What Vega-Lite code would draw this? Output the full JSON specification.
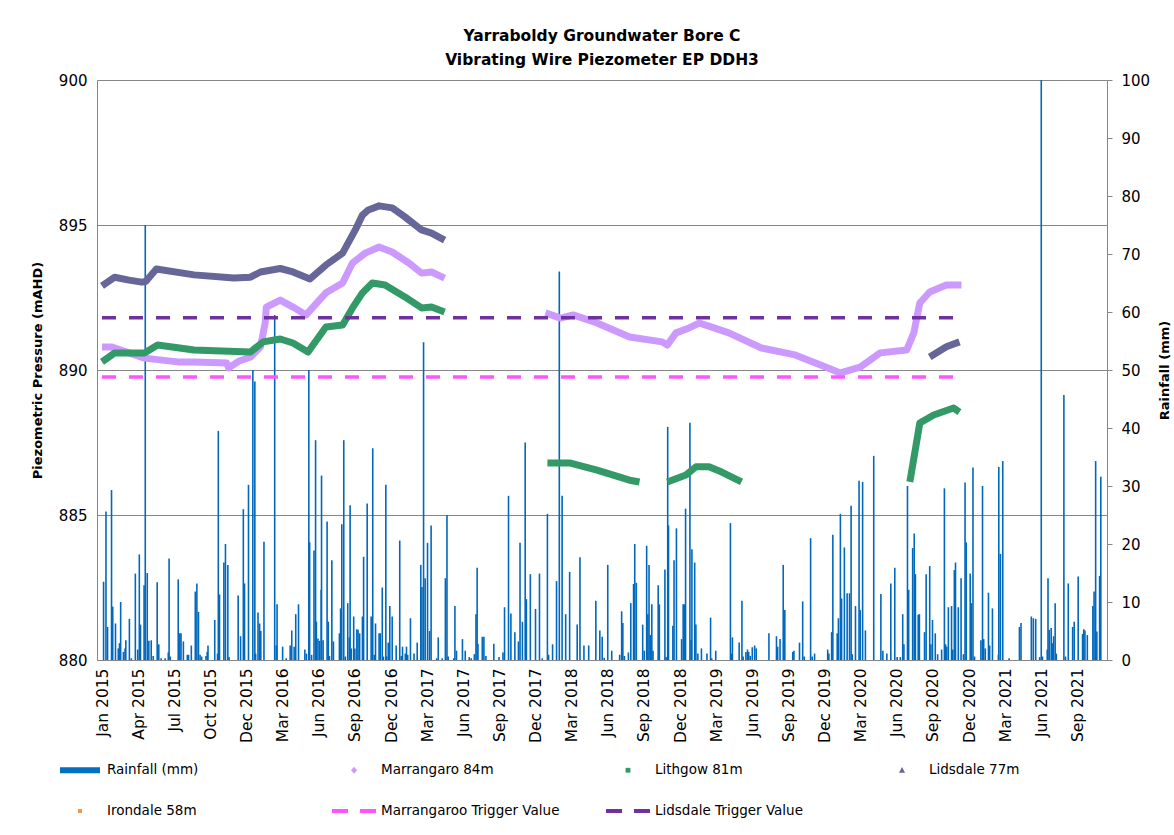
{
  "$schema": "https://vega.github.io/schema/vega-lite/v6.json",
  "width": 1010,
  "height": 580,
  "autosize": {"type": "none"},
  "padding": {"left": 97, "top": 80, "right": 67, "bottom": 175},
  "background": "white",
  "config": {
    "font": "DejaVu Sans",
    "view": {"stroke": null},
    "axis": {"labelColor": "#000000", "titleColor": "#000000", "labelFont": "DejaVu Sans", "titleFont": "DejaVu Sans"}
  },
  "title": {
    "text": ["Yarraboldy Groundwater Bore C", "Vibrating Wire Piezometer EP DDH3"],
    "fontSize": 15.5,
    "fontWeight": "bold",
    "lineHeight": 24,
    "offset": 5,
    "color": "#000000",
    "anchor": "middle"
  },
  "datasets": {
    "rain": [
      {"date":"2015-01-05","rain":13.5},{"date":"2015-01-11","rain":25.6},{"date":"2015-01-15","rain":5.7},{"date":"2015-01-25","rain":29.3},{"date":"2015-01-28","rain":9.2},
      {"date":"2015-02-04","rain":6.3},{"date":"2015-02-11","rain":2},{"date":"2015-02-14","rain":2.9},{"date":"2015-02-17","rain":10},{"date":"2015-02-24","rain":1.4},
      {"date":"2015-02-28","rain":2},{"date":"2015-03-02","rain":3.4},{"date":"2015-03-11","rain":7.1},{"date":"2015-03-16","rain":0.3},{"date":"2015-03-26","rain":14.9},
      {"date":"2015-04-01","rain":1.8},{"date":"2015-04-05","rain":18.2},{"date":"2015-04-08","rain":6.1},{"date":"2015-04-17","rain":12.9},{"date":"2015-04-20","rain":75},
      {"date":"2015-04-25","rain":15},{"date":"2015-04-29","rain":3.3},{"date":"2015-05-05","rain":3.4},{"date":"2015-05-10","rain":0.7},{"date":"2015-05-20","rain":13.4},
      {"date":"2015-05-24","rain":2.7},{"date":"2015-05-30","rain":0.3},{"date":"2015-06-09","rain":0.3},{"date":"2015-06-17","rain":1.3},{"date":"2015-06-19","rain":17.5},
      {"date":"2015-06-22","rain":0.6},{"date":"2015-07-12","rain":13.9},{"date":"2015-07-16","rain":4.6},{"date":"2015-07-19","rain":4.6},{"date":"2015-07-25","rain":3.2},
      {"date":"2015-08-04","rain":0.9},{"date":"2015-08-07","rain":0.9},{"date":"2015-08-14","rain":2.5},{"date":"2015-08-24","rain":11.8},{"date":"2015-08-28","rain":13.2},
      {"date":"2015-09-01","rain":8.3},{"date":"2015-09-05","rain":0.9},{"date":"2015-09-09","rain":0.6},{"date":"2015-09-20","rain":0.7},{"date":"2015-09-23","rain":1.4},
      {"date":"2015-09-25","rain":2.5},{"date":"2015-10-12","rain":6.9},{"date":"2015-10-19","rain":1.1},{"date":"2015-10-21","rain":39.5},{"date":"2015-10-24","rain":11.3},
      {"date":"2015-11-04","rain":16.8},{"date":"2015-11-08","rain":20},{"date":"2015-11-14","rain":16.4},{"date":"2015-11-17","rain":0.5},{"date":"2015-12-10","rain":11.1},
      {"date":"2015-12-16","rain":4.1},{"date":"2015-12-23","rain":26},{"date":"2015-12-26","rain":13.2},{"date":"2016-01-05","rain":30.2},{"date":"2016-01-16","rain":50},
      {"date":"2016-01-21","rain":48},{"date":"2016-01-23","rain":1.1},{"date":"2016-01-29","rain":8.2},{"date":"2016-02-02","rain":6.3},{"date":"2016-02-05","rain":5},
      {"date":"2016-02-13","rain":20.4},{"date":"2016-03-11","rain":59.5},{"date":"2016-03-15","rain":2.5},{"date":"2016-03-17","rain":9.6},{"date":"2016-03-31","rain":2.3},
      {"date":"2016-04-09","rain":0.3},{"date":"2016-04-19","rain":2.5},{"date":"2016-04-23","rain":5.1},{"date":"2016-04-29","rain":2.3},{"date":"2016-05-03","rain":7.9},
      {"date":"2016-05-10","rain":9.6},{"date":"2016-05-26","rain":1.8},{"date":"2016-05-30","rain":1.1},{"date":"2016-06-05","rain":50},{"date":"2016-06-07","rain":20.3},
      {"date":"2016-06-12","rain":0.9},{"date":"2016-06-18","rain":18.9},{"date":"2016-06-22","rain":37.9},{"date":"2016-06-24","rain":6.6},{"date":"2016-06-28","rain":3.7},
      {"date":"2016-07-02","rain":3.3},{"date":"2016-07-06","rain":12.1},{"date":"2016-07-07","rain":31.8},{"date":"2016-07-11","rain":3.4},{"date":"2016-07-21","rain":23.9},
      {"date":"2016-07-24","rain":6.6},{"date":"2016-07-27","rain":0.7},{"date":"2016-08-02","rain":17.2},{"date":"2016-08-06","rain":3.2},{"date":"2016-08-21","rain":4.6},
      {"date":"2016-08-24","rain":8.9},{"date":"2016-08-27","rain":23.4},{"date":"2016-09-01","rain":37.9},{"date":"2016-09-05","rain":0.6},{"date":"2016-09-11","rain":9.8},
      {"date":"2016-09-15","rain":3.9},{"date":"2016-09-17","rain":26.7},{"date":"2016-09-20","rain":2},{"date":"2016-09-26","rain":7.5},{"date":"2016-09-29","rain":2},
      {"date":"2016-10-04","rain":5.3},{"date":"2016-10-07","rain":5.2},{"date":"2016-10-11","rain":4.6},{"date":"2016-10-18","rain":7.5},{"date":"2016-10-21","rain":17.8},
      {"date":"2016-10-30","rain":27},{"date":"2016-11-09","rain":7.5},{"date":"2016-11-13","rain":36.5},{"date":"2016-11-17","rain":0.9},{"date":"2016-11-20","rain":6.3},
      {"date":"2016-11-29","rain":4.6},{"date":"2016-12-02","rain":4.6},{"date":"2016-12-07","rain":12.5},{"date":"2016-12-10","rain":0.6},{"date":"2016-12-16","rain":30.2},
      {"date":"2016-12-18","rain":0.6},{"date":"2016-12-22","rain":3},{"date":"2016-12-26","rain":9.3},{"date":"2017-01-01","rain":7.5},{"date":"2017-01-11","rain":2.5},
      {"date":"2017-01-20","rain":20.6},{"date":"2017-01-24","rain":0.7},{"date":"2017-01-27","rain":2.3},{"date":"2017-02-03","rain":1.1},{"date":"2017-02-06","rain":2.3},
      {"date":"2017-02-09","rain":0.9},{"date":"2017-02-16","rain":7.2},{"date":"2017-02-25","rain":1.1},{"date":"2017-03-05","rain":3},{"date":"2017-03-14","rain":16.4},
      {"date":"2017-03-17","rain":12.6},{"date":"2017-03-21","rain":54.8},{"date":"2017-03-25","rain":14.1},{"date":"2017-03-31","rain":20.2},{"date":"2017-04-05","rain":5},
      {"date":"2017-04-09","rain":23.2},{"date":"2017-04-23","rain":0.3},{"date":"2017-04-27","rain":3.9},{"date":"2017-05-07","rain":0.3},{"date":"2017-05-15","rain":14.1},
      {"date":"2017-05-19","rain":25},{"date":"2017-05-22","rain":0.6},{"date":"2017-06-05","rain":0.3},{"date":"2017-06-08","rain":9.3},{"date":"2017-06-12","rain":1.6},
      {"date":"2017-06-27","rain":3.6},{"date":"2017-07-04","rain":1.6},{"date":"2017-07-14","rain":0.5},{"date":"2017-07-19","rain":0.3},{"date":"2017-07-27","rain":1},
      {"date":"2017-07-31","rain":7.9},{"date":"2017-08-03","rain":15.9},{"date":"2017-08-05","rain":2.8},{"date":"2017-08-16","rain":4},{"date":"2017-08-20","rain":4},
      {"date":"2017-08-25","rain":0.7},{"date":"2017-09-14","rain":2.8},{"date":"2017-09-27","rain":0.5},{"date":"2017-10-07","rain":1.3},{"date":"2017-10-11","rain":9.1},
      {"date":"2017-10-21","rain":28.3},{"date":"2017-10-27","rain":8},{"date":"2017-11-06","rain":4.8},{"date":"2017-11-15","rain":3.2},{"date":"2017-11-19","rain":20.2},
      {"date":"2017-11-25","rain":6.6},{"date":"2017-12-02","rain":37.5},{"date":"2017-12-05","rain":10.5},{"date":"2017-12-15","rain":14.8},{"date":"2017-12-28","rain":8.8},
      {"date":"2018-01-07","rain":14.9},{"date":"2018-01-14","rain":0.3},{"date":"2018-01-27","rain":25.2},{"date":"2018-01-30","rain":0.9},{"date":"2018-02-09","rain":2.7},
      {"date":"2018-02-19","rain":13.6},{"date":"2018-02-26","rain":67},{"date":"2018-03-05","rain":28.3},{"date":"2018-03-14","rain":7.9},{"date":"2018-03-24","rain":15.2},
      {"date":"2018-04-12","rain":6.1},{"date":"2018-04-19","rain":17.7},{"date":"2018-04-29","rain":2.5},{"date":"2018-05-11","rain":2.5},{"date":"2018-05-29","rain":10.2},
      {"date":"2018-06-08","rain":5.1},{"date":"2018-06-14","rain":4},{"date":"2018-06-19","rain":0.4},{"date":"2018-06-28","rain":16.4},{"date":"2018-07-08","rain":1.6},
      {"date":"2018-07-28","rain":0.9},{"date":"2018-08-02","rain":8.4},{"date":"2018-08-05","rain":6.4},{"date":"2018-08-09","rain":0.7},{"date":"2018-08-19","rain":1.3},
      {"date":"2018-08-25","rain":9.8},{"date":"2018-09-01","rain":13.1},{"date":"2018-09-04","rain":20},{"date":"2018-09-08","rain":13.3},{"date":"2018-09-24","rain":6.1},
      {"date":"2018-09-28","rain":1.6},{"date":"2018-10-04","rain":19.7},{"date":"2018-10-07","rain":7.9},{"date":"2018-10-10","rain":16.4},{"date":"2018-10-13","rain":4.3},
      {"date":"2018-10-17","rain":9.6},{"date":"2018-10-20","rain":1.6},{"date":"2018-11-02","rain":12.9},{"date":"2018-11-05","rain":9.6},{"date":"2018-11-19","rain":15.6},
      {"date":"2018-11-22","rain":0.5},{"date":"2018-11-26","rain":40.2},{"date":"2018-11-28","rain":23.2},{"date":"2018-12-09","rain":5.9},{"date":"2018-12-12","rain":17.2},
      {"date":"2018-12-18","rain":22.7},{"date":"2018-12-31","rain":3.6},{"date":"2019-01-04","rain":9.6},{"date":"2019-01-07","rain":9.6},{"date":"2019-01-10","rain":26.1},
      {"date":"2019-01-21","rain":40.9},{"date":"2019-01-24","rain":3.4},{"date":"2019-01-26","rain":19.1},{"date":"2019-02-02","rain":16.8},{"date":"2019-02-05","rain":6.1},
      {"date":"2019-02-10","rain":1.1},{"date":"2019-02-19","rain":2},{"date":"2019-03-05","rain":1.1},{"date":"2019-03-14","rain":7.3},{"date":"2019-03-17","rain":0.3},
      {"date":"2019-03-27","rain":1.6},{"date":"2019-05-03","rain":23.6},{"date":"2019-05-06","rain":1.1},{"date":"2019-05-08","rain":3.9},{"date":"2019-05-25","rain":3},
      {"date":"2019-06-01","rain":10.2},{"date":"2019-06-04","rain":0.6},{"date":"2019-06-11","rain":1.4},{"date":"2019-06-15","rain":1.8},{"date":"2019-06-18","rain":1.4},
      {"date":"2019-06-22","rain":0.7},{"date":"2019-06-27","rain":2.2},{"date":"2019-07-03","rain":2.5},{"date":"2019-07-07","rain":2},{"date":"2019-08-08","rain":4.6},
      {"date":"2019-08-27","rain":4.1},{"date":"2019-08-30","rain":2.3},{"date":"2019-09-05","rain":3.6},{"date":"2019-09-13","rain":16.4},{"date":"2019-09-17","rain":8.6},
      {"date":"2019-10-07","rain":1.4},{"date":"2019-10-10","rain":1.6},{"date":"2019-10-24","rain":3},{"date":"2019-11-01","rain":10.1},{"date":"2019-11-05","rain":0.6},
      {"date":"2019-11-21","rain":21},{"date":"2019-11-25","rain":0.6},{"date":"2019-12-01","rain":1.1},{"date":"2020-01-03","rain":1.8},{"date":"2020-01-06","rain":1.1},
      {"date":"2020-01-13","rain":4.8},{"date":"2020-01-16","rain":21.6},{"date":"2020-01-27","rain":4.6},{"date":"2020-01-30","rain":7.2},{"date":"2020-02-04","rain":25.2},
      {"date":"2020-02-07","rain":10.6},{"date":"2020-02-14","rain":19.4},{"date":"2020-02-21","rain":11.5},{"date":"2020-02-27","rain":11.5},{"date":"2020-03-02","rain":26.6},
      {"date":"2020-03-05","rain":1},{"date":"2020-03-13","rain":9.3},{"date":"2020-03-22","rain":30.9},{"date":"2020-03-25","rain":8.6},{"date":"2020-03-31","rain":30.7},
      {"date":"2020-04-07","rain":5.1},{"date":"2020-04-28","rain":35.2},{"date":"2020-05-16","rain":11.4},{"date":"2020-05-21","rain":1.6},{"date":"2020-05-31","rain":1.1},
      {"date":"2020-06-10","rain":13.2},{"date":"2020-06-20","rain":15.9},{"date":"2020-06-26","rain":0.5},{"date":"2020-07-04","rain":0.5},{"date":"2020-07-10","rain":7.9},
      {"date":"2020-07-13","rain":2.7},{"date":"2020-07-22","rain":30},{"date":"2020-07-25","rain":12.1},{"date":"2020-08-04","rain":19.3},{"date":"2020-08-08","rain":21.8},
      {"date":"2020-08-11","rain":14.8},{"date":"2020-08-18","rain":7.8},{"date":"2020-08-21","rain":7.9},{"date":"2020-09-03","rain":4.8},{"date":"2020-09-07","rain":14.8},
      {"date":"2020-09-16","rain":16.2},{"date":"2020-09-19","rain":2.7},{"date":"2020-09-23","rain":6.9},{"date":"2020-09-30","rain":4.6},{"date":"2020-10-06","rain":1},
      {"date":"2020-10-16","rain":1.8},{"date":"2020-10-23","rain":29.6},{"date":"2020-10-26","rain":2.7},{"date":"2020-10-29","rain":2.3},{"date":"2020-11-02","rain":9.1},
      {"date":"2020-11-10","rain":9.3},{"date":"2020-11-13","rain":1.8},{"date":"2020-11-17","rain":15.5},{"date":"2020-11-20","rain":16.8},{"date":"2020-11-27","rain":9.1},
      {"date":"2020-12-04","rain":14.1},{"date":"2020-12-10","rain":1},{"date":"2020-12-14","rain":30.6},{"date":"2020-12-17","rain":20.3},{"date":"2020-12-27","rain":14.9},
      {"date":"2020-12-30","rain":9.8},{"date":"2021-01-03","rain":33.2},{"date":"2021-01-07","rain":0.6},{"date":"2021-01-23","rain":3.4},{"date":"2021-01-27","rain":30},
      {"date":"2021-01-30","rain":3.6},{"date":"2021-02-03","rain":2},{"date":"2021-02-11","rain":11.6},{"date":"2021-02-14","rain":2.5},{"date":"2021-02-21","rain":8.9},
      {"date":"2021-03-08","rain":0.9},{"date":"2021-03-09","rain":33.3},{"date":"2021-03-13","rain":18.3},{"date":"2021-03-19","rain":34.3},{"date":"2021-04-04","rain":0.3},
      {"date":"2021-04-30","rain":5.7},{"date":"2021-05-04","rain":6.4},{"date":"2021-05-30","rain":7.5},{"date":"2021-06-04","rain":7.2},{"date":"2021-06-10","rain":7.1},
      {"date":"2021-06-20","rain":0.5},{"date":"2021-06-24","rain":100},{"date":"2021-06-27","rain":0.6},{"date":"2021-07-09","rain":1.8},{"date":"2021-07-11","rain":14.1},
      {"date":"2021-07-14","rain":5.2},{"date":"2021-07-19","rain":5.5},{"date":"2021-07-22","rain":2.9},{"date":"2021-07-25","rain":4.1},{"date":"2021-07-29","rain":9.8},
      {"date":"2021-08-01","rain":1.1},{"date":"2021-08-20","rain":45.7},{"date":"2021-08-24","rain":0.6},{"date":"2021-08-31","rain":13.2},{"date":"2021-09-11","rain":5.7},
      {"date":"2021-09-15","rain":6.6},{"date":"2021-09-25","rain":14.4},{"date":"2021-10-06","rain":4.5},{"date":"2021-10-09","rain":5.3},{"date":"2021-10-12","rain":5.1},
      {"date":"2021-10-18","rain":4.3},{"date":"2021-11-01","rain":9.3},{"date":"2021-11-04","rain":11.8},{"date":"2021-11-08","rain":34.3},{"date":"2021-11-11","rain":4.9},
      {"date":"2021-11-18","rain":14.5},{"date":"2021-11-21","rain":31.6}
    ],
    "series": [
      {"series":"Lidsdale 77m","seg":"L1","date":"2015-01-01","value":892.9},
      {"series":"Lidsdale 77m","seg":"L1","date":"2015-02-02","value":893.2},
      {"series":"Lidsdale 77m","seg":"L1","date":"2015-03-10","value":893.1},
      {"series":"Lidsdale 77m","seg":"L1","date":"2015-04-11","value":893.03},
      {"series":"Lidsdale 77m","seg":"L1","date":"2015-04-21","value":893.05},
      {"series":"Lidsdale 77m","seg":"L1","date":"2015-05-18","value":893.48},
      {"series":"Lidsdale 77m","seg":"L1","date":"2015-08-21","value":893.28},
      {"series":"Lidsdale 77m","seg":"L1","date":"2015-11-29","value":893.17},
      {"series":"Lidsdale 77m","seg":"L1","date":"2016-01-10","value":893.2},
      {"series":"Lidsdale 77m","seg":"L1","date":"2016-02-04","value":893.38},
      {"series":"Lidsdale 77m","seg":"L1","date":"2016-03-25","value":893.5},
      {"series":"Lidsdale 77m","seg":"L1","date":"2016-04-26","value":893.38},
      {"series":"Lidsdale 77m","seg":"L1","date":"2016-06-08","value":893.14},
      {"series":"Lidsdale 77m","seg":"L1","date":"2016-07-18","value":893.62},
      {"series":"Lidsdale 77m","seg":"L1","date":"2016-08-29","value":894.03},
      {"series":"Lidsdale 77m","seg":"L1","date":"2016-09-30","value":894.83},
      {"series":"Lidsdale 77m","seg":"L1","date":"2016-10-18","value":895.34},
      {"series":"Lidsdale 77m","seg":"L1","date":"2016-11-02","value":895.52},
      {"series":"Lidsdale 77m","seg":"L1","date":"2016-11-29","value":895.66},
      {"series":"Lidsdale 77m","seg":"L1","date":"2017-01-01","value":895.59},
      {"series":"Lidsdale 77m","seg":"L1","date":"2017-02-02","value":895.28},
      {"series":"Lidsdale 77m","seg":"L1","date":"2017-03-16","value":894.83},
      {"series":"Lidsdale 77m","seg":"L1","date":"2017-04-10","value":894.72},
      {"series":"Lidsdale 77m","seg":"L1","date":"2017-05-13","value":894.48},
      {"series":"Lidsdale 77m","seg":"L2","date":"2020-09-16","value":890.45},
      {"series":"Lidsdale 77m","seg":"L2","date":"2020-10-28","value":890.8},
      {"series":"Lidsdale 77m","seg":"L2","date":"2020-11-30","value":890.97},
      {"series":"Marrangaro 84m","seg":"M1","date":"2015-01-01","value":890.79},
      {"series":"Marrangaro 84m","seg":"M1","date":"2015-01-26","value":890.79},
      {"series":"Marrangaro 84m","seg":"M1","date":"2015-04-18","value":890.41},
      {"series":"Marrangaro 84m","seg":"M1","date":"2015-07-10","value":890.28},
      {"series":"Marrangaro 84m","seg":"M1","date":"2015-08-21","value":890.28},
      {"series":"Marrangaro 84m","seg":"M1","date":"2015-11-11","value":890.24},
      {"series":"Marrangaro 84m","seg":"M1","date":"2015-11-16","value":890.07},
      {"series":"Marrangaro 84m","seg":"M1","date":"2015-12-11","value":890.3},
      {"series":"Marrangaro 84m","seg":"M1","date":"2016-01-10","value":890.45},
      {"series":"Marrangaro 84m","seg":"M1","date":"2016-02-04","value":890.79},
      {"series":"Marrangaro 84m","seg":"M1","date":"2016-02-16","value":891.62},
      {"series":"Marrangaro 84m","seg":"M1","date":"2016-02-19","value":892.17},
      {"series":"Marrangaro 84m","seg":"M1","date":"2016-03-25","value":892.41},
      {"series":"Marrangaro 84m","seg":"M1","date":"2016-04-26","value":892.17},
      {"series":"Marrangaro 84m","seg":"M1","date":"2016-05-29","value":891.9},
      {"series":"Marrangaro 84m","seg":"M1","date":"2016-07-18","value":892.66},
      {"series":"Marrangaro 84m","seg":"M1","date":"2016-08-29","value":893.0},
      {"series":"Marrangaro 84m","seg":"M1","date":"2016-09-23","value":893.69},
      {"series":"Marrangaro 84m","seg":"M1","date":"2016-10-25","value":894.03},
      {"series":"Marrangaro 84m","seg":"M1","date":"2016-11-29","value":894.24},
      {"series":"Marrangaro 84m","seg":"M1","date":"2017-01-01","value":894.07},
      {"series":"Marrangaro 84m","seg":"M1","date":"2017-02-12","value":893.69},
      {"series":"Marrangaro 84m","seg":"M1","date":"2017-03-16","value":893.34},
      {"series":"Marrangaro 84m","seg":"M1","date":"2017-04-10","value":893.38},
      {"series":"Marrangaro 84m","seg":"M1","date":"2017-05-13","value":893.17},
      {"series":"Marrangaro 84m","seg":"M2","date":"2018-01-22","value":891.97},
      {"series":"Marrangaro 84m","seg":"M2","date":"2018-03-01","value":891.79},
      {"series":"Marrangaro 84m","seg":"M2","date":"2018-04-02","value":891.9},
      {"series":"Marrangaro 84m","seg":"M2","date":"2018-06-01","value":891.62},
      {"series":"Marrangaro 84m","seg":"M2","date":"2018-08-22","value":891.14},
      {"series":"Marrangaro 84m","seg":"M2","date":"2018-11-12","value":890.97},
      {"series":"Marrangaro 84m","seg":"M2","date":"2018-11-25","value":890.86},
      {"series":"Marrangaro 84m","seg":"M2","date":"2018-12-17","value":891.28},
      {"series":"Marrangaro 84m","seg":"M2","date":"2019-01-19","value":891.45},
      {"series":"Marrangaro 84m","seg":"M2","date":"2019-02-13","value":891.62},
      {"series":"Marrangaro 84m","seg":"M2","date":"2019-03-17","value":891.48},
      {"series":"Marrangaro 84m","seg":"M2","date":"2019-04-29","value":891.28},
      {"series":"Marrangaro 84m","seg":"M2","date":"2019-07-20","value":890.76},
      {"series":"Marrangaro 84m","seg":"M2","date":"2019-10-13","value":890.52},
      {"series":"Marrangaro 84m","seg":"M2","date":"2019-12-16","value":890.17},
      {"series":"Marrangaro 84m","seg":"M2","date":"2020-02-04","value":889.9},
      {"series":"Marrangaro 84m","seg":"M2","date":"2020-03-25","value":890.1},
      {"series":"Marrangaro 84m","seg":"M2","date":"2020-05-14","value":890.59},
      {"series":"Marrangaro 84m","seg":"M2","date":"2020-07-20","value":890.69},
      {"series":"Marrangaro 84m","seg":"M2","date":"2020-08-07","value":891.28},
      {"series":"Marrangaro 84m","seg":"M2","date":"2020-08-22","value":892.31},
      {"series":"Marrangaro 84m","seg":"M2","date":"2020-09-16","value":892.69},
      {"series":"Marrangaro 84m","seg":"M2","date":"2020-10-28","value":892.93},
      {"series":"Marrangaro 84m","seg":"M2","date":"2020-12-05","value":892.93},
      {"series":"Lithgow 81m","seg":"G1","date":"2015-01-01","value":890.28},
      {"series":"Lithgow 81m","seg":"G1","date":"2015-02-02","value":890.59},
      {"series":"Lithgow 81m","seg":"G1","date":"2015-04-18","value":890.59},
      {"series":"Lithgow 81m","seg":"G1","date":"2015-05-21","value":890.86},
      {"series":"Lithgow 81m","seg":"G1","date":"2015-08-21","value":890.69},
      {"series":"Lithgow 81m","seg":"G1","date":"2016-01-10","value":890.62},
      {"series":"Lithgow 81m","seg":"G1","date":"2016-02-11","value":890.97},
      {"series":"Lithgow 81m","seg":"G1","date":"2016-03-25","value":891.07},
      {"series":"Lithgow 81m","seg":"G1","date":"2016-04-26","value":890.93},
      {"series":"Lithgow 81m","seg":"G1","date":"2016-06-03","value":890.62},
      {"series":"Lithgow 81m","seg":"G1","date":"2016-07-18","value":891.48},
      {"series":"Lithgow 81m","seg":"G1","date":"2016-08-29","value":891.55},
      {"series":"Lithgow 81m","seg":"G1","date":"2016-09-23","value":892.14},
      {"series":"Lithgow 81m","seg":"G1","date":"2016-10-18","value":892.66},
      {"series":"Lithgow 81m","seg":"G1","date":"2016-11-12","value":893.0},
      {"series":"Lithgow 81m","seg":"G1","date":"2016-12-14","value":892.93},
      {"series":"Lithgow 81m","seg":"G1","date":"2017-02-02","value":892.52},
      {"series":"Lithgow 81m","seg":"G1","date":"2017-03-16","value":892.14},
      {"series":"Lithgow 81m","seg":"G1","date":"2017-04-10","value":892.17},
      {"series":"Lithgow 81m","seg":"G1","date":"2017-05-13","value":892.0},
      {"series":"Lithgow 81m","seg":"G2","date":"2018-01-27","value":886.79},
      {"series":"Lithgow 81m","seg":"G2","date":"2018-03-26","value":886.79},
      {"series":"Lithgow 81m","seg":"G2","date":"2018-06-01","value":886.55},
      {"series":"Lithgow 81m","seg":"G2","date":"2018-08-22","value":886.2},
      {"series":"Lithgow 81m","seg":"G2","date":"2018-09-16","value":886.14},
      {"series":"Lithgow 81m","seg":"G3","date":"2018-11-25","value":886.14},
      {"series":"Lithgow 81m","seg":"G3","date":"2019-01-11","value":886.38},
      {"series":"Lithgow 81m","seg":"G3","date":"2019-02-05","value":886.66},
      {"series":"Lithgow 81m","seg":"G3","date":"2019-03-10","value":886.66},
      {"series":"Lithgow 81m","seg":"G3","date":"2019-04-11","value":886.48},
      {"series":"Lithgow 81m","seg":"G3","date":"2019-05-31","value":886.14},
      {"series":"Lithgow 81m","seg":"G4","date":"2020-07-28","value":886.14},
      {"series":"Lithgow 81m","seg":"G4","date":"2020-08-22","value":888.17},
      {"series":"Lithgow 81m","seg":"G4","date":"2020-09-26","value":888.45},
      {"series":"Lithgow 81m","seg":"G4","date":"2020-11-15","value":888.69},
      {"series":"Lithgow 81m","seg":"G4","date":"2020-11-30","value":888.55}
    ],
    "triggers": [
      {"series":"Marrangaroo Trigger Value","date":"2015-01-01","value":889.76},
      {"series":"Marrangaroo Trigger Value","date":"2020-12-01","value":889.76},
      {"series":"Lidsdale Trigger Value","date":"2015-01-01","value":891.8},
      {"series":"Lidsdale Trigger Value","date":"2020-12-01","value":891.8}
    ],
    "legendItems": [
      {"series":"Rainfall (mm)","date":"2015-01-01"},
      {"series":"Marrangaro 84m","date":"2015-01-01"},
      {"series":"Lithgow 81m","date":"2015-01-01"},
      {"series":"Lidsdale 77m","date":"2015-01-01"},
      {"series":"Irondale 58m","date":"2015-01-01"},
      {"series":"Marrangaroo Trigger Value","date":"2015-01-01"},
      {"series":"Lidsdale Trigger Value","date":"2015-01-01"}
    ]
  },
  "encoding": {
    "x": {
      "field": "date",
      "type": "temporal",
      "scale": {
        "type": "utc",
        "domain": [
          {"year": 2015, "month": 1, "date": 1, "utc": true},
          {"year": 2021, "month": 11, "date": 24, "utc": true}
        ]
      },
      "axis": {
        "title": null,
        "grid": false,
        "ticks": false,
        "domainColor": "#868686",
        "labelAngle": 270,
        "labelFontSize": 15.5,
        "labelPadding": 8,
        "labelOverlap": false,
        "labelFlush": false,
        "format": "%b %Y",
        "values": [
          {"year": 2015, "month": 1, "date": 1, "utc": true},
          {"year": 2015, "month": 4, "date": 2, "utc": true},
          {"year": 2015, "month": 7, "date": 2, "utc": true},
          {"year": 2015, "month": 10, "date": 1, "utc": true},
          {"year": 2015, "month": 12, "date": 31, "utc": true},
          {"year": 2016, "month": 3, "date": 31, "utc": true},
          {"year": 2016, "month": 6, "date": 30, "utc": true},
          {"year": 2016, "month": 9, "date": 29, "utc": true},
          {"year": 2016, "month": 12, "date": 29, "utc": true},
          {"year": 2017, "month": 3, "date": 30, "utc": true},
          {"year": 2017, "month": 6, "date": 29, "utc": true},
          {"year": 2017, "month": 9, "date": 28, "utc": true},
          {"year": 2017, "month": 12, "date": 28, "utc": true},
          {"year": 2018, "month": 3, "date": 29, "utc": true},
          {"year": 2018, "month": 6, "date": 28, "utc": true},
          {"year": 2018, "month": 9, "date": 27, "utc": true},
          {"year": 2018, "month": 12, "date": 27, "utc": true},
          {"year": 2019, "month": 3, "date": 28, "utc": true},
          {"year": 2019, "month": 6, "date": 27, "utc": true},
          {"year": 2019, "month": 9, "date": 26, "utc": true},
          {"year": 2019, "month": 12, "date": 26, "utc": true},
          {"year": 2020, "month": 3, "date": 26, "utc": true},
          {"year": 2020, "month": 6, "date": 25, "utc": true},
          {"year": 2020, "month": 9, "date": 24, "utc": true},
          {"year": 2020, "month": 12, "date": 24, "utc": true},
          {"year": 2021, "month": 3, "date": 25, "utc": true},
          {"year": 2021, "month": 6, "date": 24, "utc": true},
          {"year": 2021, "month": 9, "date": 23, "utc": true}
        ]
      }
    }
  },
  "layer": [
    {
      "data": {"name": "rain"},
      "mark": {"type": "bar", "width": 1.6, "color": "#0068BD"},
      "encoding": {
        "y": {
          "field": "rain",
          "type": "quantitative",
          "scale": {"domain": [0, 100], "nice": false, "zero": true},
          "axis": {
            "orient": "right",
            "values": [0, 10, 20, 30, 40, 50, 60, 70, 80, 90, 100],
            "grid": false,
            "ticks": true,
            "tickSize": 5,
            "tickColor": "#868686",
            "domainColor": "#868686",
            "labelFontSize": 15,
            "labelPadding": 9,
            "title": "Rainfall (mm)",
            "titleFontSize": 13,
            "titleFontWeight": "bold",
            "titleAngle": 270,
            "titlePadding": 22
          }
        }
      }
    },
    {
      "layer": [
        {
          "data": {"name": "legendItems"},
          "mark": {"type": "point", "filled": true, "clip": true, "opacity": 1},
          "encoding": {
            "y": {
              "datum": 860,
              "type": "quantitative",
              "scale": {"domain": [880, 900], "nice": false, "zero": false},
              "axis": {
                "orient": "left",
                "values": [880, 885, 890, 895, 900],
                "grid": true,
                "gridColor": "#868686",
                "ticks": false,
                "domainColor": "#868686",
                "labelFontSize": 15,
                "labelPadding": 10,
                "title": "Piezometric Pressure (mAHD)",
                "titleFontSize": 13,
                "titleFontWeight": "bold",
                "titlePadding": 14
              }
            },
            "color": {
              "field": "series",
              "type": "nominal",
              "scale": {
                "domain": ["Rainfall (mm)", "Marrangaro 84m", "Lithgow 81m", "Lidsdale 77m", "Irondale 58m", "Marrangaroo Trigger Value", "Lidsdale Trigger Value"],
                "range": ["#0070C0", "#CC99FF", "#339966", "#666699", "#F79646", "#FF55FF", "#7030A0"]
              },
              "legend": {
                "title": null,
                "orient": "none",
                "legendX": -37,
                "legendY": 670,
                "direction": "horizontal",
                "columns": 4,
                "gridAlign": "all",
                "columnPadding": 46,
                "rowPadding": 14,
                "symbolSize": 1600,
                "symbolStrokeWidth": 0,
                "symbolOpacity": 1,
                "labelOffset": 7,
                "labelFontSize": 13.5,
                "labelColor": "#000000",
                "labelLimit": 400
              }
            },
            "shape": {
              "field": "series",
              "type": "nominal",
              "scale": {
                "domain": ["Rainfall (mm)", "Marrangaro 84m", "Lithgow 81m", "Lidsdale 77m", "Irondale 58m", "Marrangaroo Trigger Value", "Lidsdale Trigger Value"],
                "range": [
                  "M-1,-0.15H1V0.15H-1Z",
                  "M0,-0.18L0.15,0L0,0.18L-0.15,0Z",
                  "M-0.12,-0.12H0.12V0.12H-0.12Z",
                  "M0,-0.16L0.15,0.13H-0.15Z",
                  "M-0.1,-0.1H0.1V0.1H-0.1Z",
                  "M-1.1,-0.1H-0.3V0.1H-1.1Z M0.3,-0.1H1.1V0.1H0.3Z",
                  "M-1.1,-0.1H-0.3V0.1H-1.1Z M0.3,-0.1H1.1V0.1H0.3Z"
                ]
              },
              "legend": {
                "title": null,
                "orient": "none",
                "legendX": -37,
                "legendY": 670,
                "direction": "horizontal",
                "columns": 4,
                "gridAlign": "all",
                "columnPadding": 46,
                "rowPadding": 14,
                "symbolSize": 1600,
                "symbolStrokeWidth": 0,
                "symbolOpacity": 1,
                "labelOffset": 7,
                "labelFontSize": 13.5,
                "labelColor": "#000000",
                "labelLimit": 400
              }
            }
          }
        },
        {
          "data": {"name": "series"},
          "mark": {"type": "line", "strokeWidth": 7, "strokeCap": "butt", "strokeJoin": "round"},
          "encoding": {
            "y": {"field": "value", "type": "quantitative"},
            "color": {"field": "series", "type": "nominal", "legend": null},
            "detail": {"field": "seg", "type": "nominal"}
          }
        },
        {
          "data": {"name": "triggers"},
          "mark": {"type": "line", "strokeWidth": 3.5, "strokeDash": [14, 13], "strokeCap": "butt"},
          "encoding": {
            "y": {"field": "value", "type": "quantitative"},
            "color": {"field": "series", "type": "nominal", "legend": null}
          }
        }
      ]
    }
  ],
  "resolve": {"scale": {"y": "independent"}}
}
